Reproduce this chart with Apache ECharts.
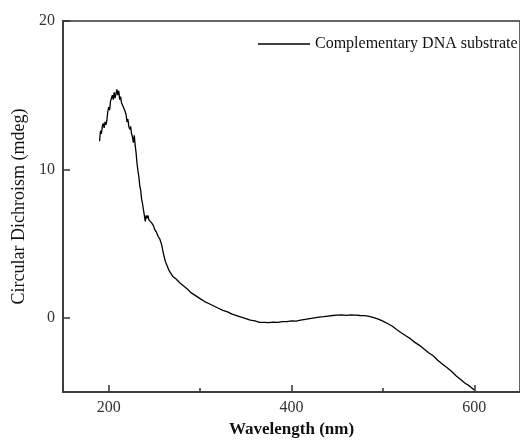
<!DOCTYPE html>
<html>
<head>
<meta charset="utf-8">
<script src="https://cdn.jsdelivr.net/npm/echarts@6/dist/echarts.min.js"></script>
<style>html,body{margin:0;padding:0;background:#fff}#c{width:520px;height:443px}</style>
</head>
<body>
<div id="c"></div>
<script>
var seriesName = 'Complementary DNA substrate';
var xTickLabels = [200, 400, 600];
var xMinorTicks = [300, 500];
var yTickLabels = [0, 10, 20];
var wavelength = [190,191,192,193,194,195,196,197,198,199,200,201,202,203,204,205,206,207,208,209,210,211,212,213,214,215,216,217,218,219,220,221,222,223,224,225,226,227,228,229,230,231,232,233,234,235,236,237,238,239,240,241,242,243,244,245,246,247,248,249,250,252,254,256,258,260,262,264,266,268,270,274,278,282,286,290,295,300,305,310,315,320,325,330,335,340,345,350,355,360,365,370,375,380,385,390,395,400,405,410,415,420,425,430,435,440,445,450,455,460,465,470,475,480,485,490,495,500,505,510,515,520,525,530,535,540,545,550,555,560,565,570,575,580,585,590,595,598,600];
var cd = [11.9,12.6,12.4,12.9,13.1,12.8,13.2,13.0,13.3,13.9,14.2,14.0,14.6,14.5,15.0,14.7,15.2,14.8,15.1,15.4,15.0,15.3,14.7,14.9,14.5,14.6,14.2,14.3,13.9,13.7,13.2,13.4,12.9,12.7,12.9,12.4,12.2,11.8,12.3,11.6,11.1,10.4,9.9,9.5,8.9,8.6,8.0,7.7,7.3,6.9,6.5,6.9,6.7,6.9,6.6,6.7,6.5,6.4,6.4,6.2,6.0,5.8,5.5,5.3,4.9,4.3,3.8,3.5,3.2,3.0,2.8,2.6,2.35,2.15,1.95,1.7,1.5,1.3,1.1,0.95,0.8,0.65,0.5,0.4,0.25,0.15,0.05,-0.05,-0.15,-0.2,-0.3,-0.3,-0.32,-0.28,-0.3,-0.25,-0.25,-0.2,-0.22,-0.15,-0.1,-0.05,0.0,0.05,0.08,0.12,0.16,0.18,0.2,0.17,0.2,0.18,0.16,0.15,0.1,0.02,-0.08,-0.22,-0.38,-0.55,-0.78,-1.0,-1.2,-1.4,-1.65,-1.85,-2.1,-2.35,-2.55,-2.85,-3.1,-3.35,-3.6,-3.9,-4.15,-4.4,-4.6,-4.75,-4.85];

var points = wavelength.map(function (w, i) { return [w, cd[i]]; });
var serif = 'Liberation Serif';
var axisColor = '#333';

var chart = echarts.init(document.getElementById('c'), null, {renderer: 'canvas'});
chart.setOption({
  animation: false,
  backgroundColor: '#fff',
  grid: {left: 63, top: 21, width: 464, height: 375, show: true, borderColor: axisColor, borderWidth: 1.5, backgroundColor: 'transparent'},
  legend: {
    data: [seriesName], left: 253, top: 31, icon: 'rect', itemWidth: 52, itemHeight: 1.5,
    itemStyle: {color: '#000'},
    textStyle: {fontFamily: serif, fontSize: 16, color: '#111'}
  },
  xAxis: [{
    type: 'value', min: 150, max: 650,
    name: 'Wavelength (nm)', nameLocation: 'middle', nameGap: 23,
    nameTextStyle: {fontFamily: serif, fontSize: 17, fontWeight: 'bold', color: '#111'},
    axisLine: {show: true, onZero: false, lineStyle: {color: axisColor, width: 1.5}},
    axisTick: {show: true, inside: true, length: 7, customValues: xTickLabels, lineStyle: {color: axisColor, width: 1.5}},
    axisLabel: {show: true, customValues: xTickLabels, fontFamily: serif, fontSize: 16, color: '#333', margin: 8},
    splitLine: {show: false}
  }, {
    type: 'value', min: 150, max: 650, position: 'bottom',
    axisLine: {show: false, onZero: false},
    axisTick: {show: true, inside: true, length: 4, customValues: xMinorTicks, lineStyle: {color: axisColor, width: 1.5}},
    axisLabel: {show: false},
    splitLine: {show: false}
  }],
  yAxis: {
    type: 'value', min: -5, max: 20,
    name: 'Circular Dichroism (mdeg)', nameLocation: 'middle', nameGap: 34, nameRotate: 90,
    nameTextStyle: {fontFamily: serif, fontSize: 18, color: '#111'},
    axisLine: {show: true, onZero: false, lineStyle: {color: axisColor, width: 1.5}},
    axisTick: {show: true, inside: true, length: 7, customValues: yTickLabels, lineStyle: {color: axisColor, width: 1.5}},
    axisLabel: {show: true, customValues: yTickLabels, fontFamily: serif, fontSize: 16, color: '#333', margin: 8},
    splitLine: {show: false}
  },
  series: [{
    name: seriesName, type: 'line', xAxisIndex: 0, data: points,
    showSymbol: false, symbol: 'none',
    lineStyle: {color: '#000', width: 1.3},
    itemStyle: {color: '#000'}
  }]
});
</script>
</body>
</html>
